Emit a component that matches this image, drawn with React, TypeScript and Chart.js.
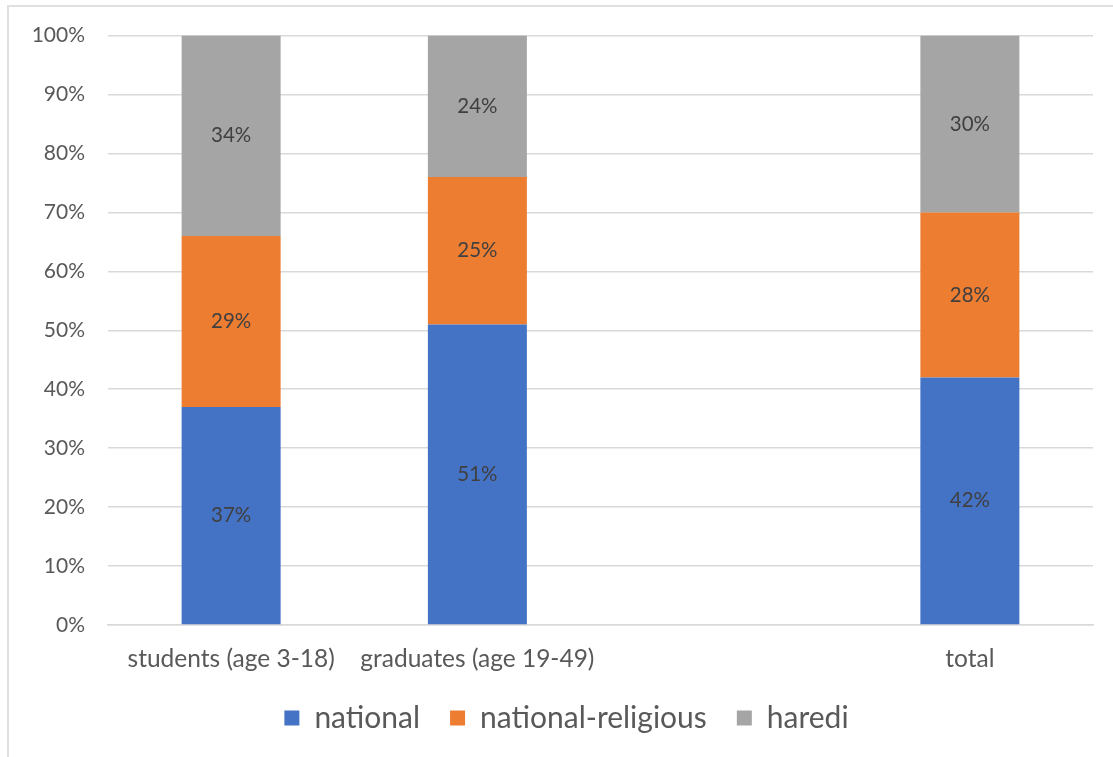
import React, { useEffect, useRef } from "react";
import { Chart, registerables } from "chart.js";

Chart.register(...registerables);

const categories = ["students (age 3-18)", "graduates (age 19-49)", "", "total"];
const nationalValues = [37, 51, null, 42];
const nationalReligiousValues = [29, 25, null, 28];
const harediValues = [34, 24, null, 30];
const yTicks = [0, 10, 20, 30, 40, 50, 60, 70, 80, 90, 100];

const FONT = "Lato, 'Open Sans', sans-serif";

// Writes each segment's percentage in the middle of its bar.
const segmentLabels = {
  id: "segmentLabels",
  afterDatasetsDraw(chart: any) {
    const { ctx } = chart;
    ctx.save();
    ctx.font = `20.5px ${FONT}`;
    ctx.fillStyle = "#404040";
    ctx.textAlign = "center";
    ctx.textBaseline = "middle";
    chart.data.datasets.forEach((ds: any, di: number) => {
      const meta = chart.getDatasetMeta(di);
      meta.data.forEach((bar: any, i: number) => {
        const v = ds.data[i];
        if (v == null) return;
        const p = bar.getCenterPoint();
        ctx.fillText(`${v}%`, p.x, p.y);
      });
    });
    ctx.restore();
  },
};

// Centres the legend row a little right of the canvas middle.
const legendShift = {
  id: "legendShift",
  afterLayout(chart: any) {
    if (chart.legend) {
      chart.legend.left += 40;
    }
  },
};

export default function App() {
  const ref = useRef<HTMLCanvasElement>(null);

  useEffect(() => {
    if (!ref.current) return;
    const chart = new Chart(ref.current, {
      type: "bar",
      data: {
        labels: categories,
        datasets: [
          { label: "national", data: nationalValues, backgroundColor: "#4472C4" },
          { label: "national-religious", data: nationalReligiousValues, backgroundColor: "#ED7D31" },
          { label: "haredi", data: harediValues, backgroundColor: "#A5A5A5" },
        ],
      },
      options: {
        animation: false,
        responsive: false,
        layout: { padding: { top: 35, right: 20, left: 0, bottom: 14 } },
        datasets: { bar: { barPercentage: 0.402, categoryPercentage: 1 } },
        plugins: {
          tooltip: { enabled: false },
          legend: {
            position: "bottom",
            labels: {
              font: { family: FONT, size: 30, lineHeight: 1 },
              color: "#595959",
              boxWidth: 15,
              boxHeight: 15,
              padding: 30,
            },
          },
        },
        scales: {
          x: {
            stacked: true,
            grid: { display: false, drawTicks: false },
            border: { display: true, color: "#d9d9d9", width: 1.5 },
            ticks: {
              font: { family: FONT, size: 24.5 },
              color: "#595959",
              padding: 19,
              maxRotation: 0,
              autoSkip: false,
            },
            afterFit: (s: any) => {
              s.height = 48;
            },
          },
          y: {
            stacked: true,
            min: 0,
            max: 100,
            afterBuildTicks: (s: any) => {
              s.ticks = yTicks.map((v) => ({ value: v }));
            },
            grid: { color: "#d9d9d9", lineWidth: 1.5, drawTicks: false },
            border: { display: false },
            ticks: {
              font: { family: FONT, size: 21 },
              color: "#595959",
              padding: 23,
              callback: (v: any) => `${v}%`,
            },
            afterFit: (s: any) => {
              s.width = 108;
            },
          },
        },
      },
      plugins: [segmentLabels, legendShift],
    });
    return () => chart.destroy();
  }, []);

  return (
    <div style={{ position: "absolute", left: 0, top: 0, width: 1113, height: 757, background: "#fff", overflow: "hidden" }}>
      <div
        style={{
          position: "absolute",
          left: 7,
          top: 5,
          width: 1200,
          height: 800,
          borderTop: "2px solid #e0e0e0",
          borderLeft: "2px solid #e0e0e0",
        }}
      />
      <canvas ref={ref} width={1113} height={757} style={{ position: "absolute", left: 0, top: 0 }} />
    </div>
  );
}
